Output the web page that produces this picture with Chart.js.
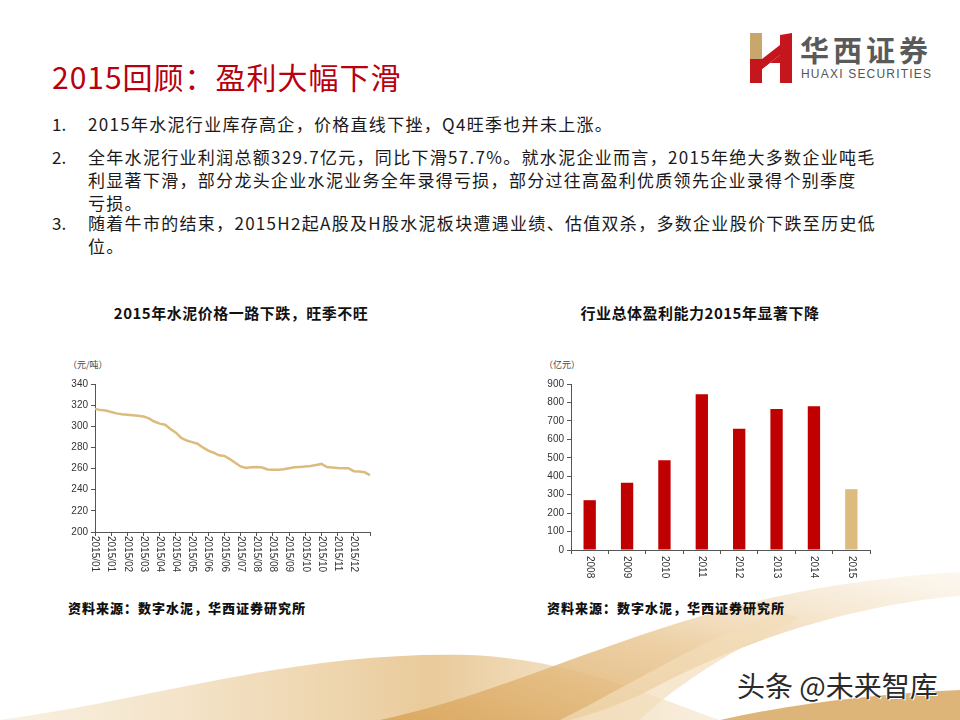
<!DOCTYPE html>
<html>
<head>
<meta charset="utf-8">
<script src="https://cdn.jsdelivr.net/npm/chart.js@4/dist/chart.umd.min.js"></script>
<style>
  html, body { margin: 0; padding: 0; background: #fff; }
  #slide { position: relative; width: 960px; height: 720px; overflow: hidden; font-family: "Noto Sans CJK SC", "Liberation Sans", sans-serif; }
  .abs { position: absolute; white-space: nowrap; }
  #heading { left: 52px; top: 56px; font-size: 30px; line-height: 40px; color: #B8000F; letter-spacing: 1px; }
  .bl { font-size: 17px; line-height: 23px; color: #1a1a1a; letter-spacing: 1.3px; }
  .num { left: 52px; letter-spacing: 0; }
  .txt { left: 88px; }
  .ctitle { font-size: 15px; font-weight: 700; color: #111; letter-spacing: 0.5px; transform: translateX(-50%); }
  .unit { font-size: 9px; color: #444; }
  .src { font-size: 13px; font-weight: 900; color: #111; letter-spacing: 1px; }
  canvas { position: absolute; }
</style>
</head>
<body>
<div id="slide">
  <svg class="abs" style="left:0;top:0" width="960" height="720" viewBox="0 0 960 720">
    <defs>
      <linearGradient id="g1" x1="0" y1="0" x2="1" y2="0">
        <stop offset="0" stop-color="#F3E2C4" stop-opacity="0.5"/>
        <stop offset="0.6" stop-color="#E2B978" stop-opacity="0.75"/>
        <stop offset="1" stop-color="#F0D9B2" stop-opacity="0.4"/>
      </linearGradient>
      <linearGradient id="g2" x1="0" y1="1" x2="1" y2="0">
        <stop offset="0" stop-color="#D9A55C" stop-opacity="0.9"/>
        <stop offset="0.5" stop-color="#E8C48E" stop-opacity="0.8"/>
        <stop offset="1" stop-color="#F5E6CC" stop-opacity="0.3"/>
      </linearGradient>
    </defs>
    <path d="M0 720 C150 700 300 650 470 655 C580 660 660 700 720 720 Z" fill="url(#g1)"/>
    <path d="M380 720 C520 690 640 620 820 588 C880 578 930 574 960 572 L960 596 C880 602 760 630 650 690 C620 705 590 715 570 720 Z" fill="url(#g2)"/>
    <path d="M560 720 C640 680 700 640 780 612 L800 618 C730 650 670 690 640 720 Z" fill="#F2DDB9" opacity="0.7"/>
    <path d="M720 720 C800 702 880 694 960 690 L960 720 Z" fill="#D8A862" opacity="0.85"/>
  </svg>

  <div id="heading" class="abs">2015回顾：盈利大幅下滑</div>

  <svg class="abs" style="left:750px;top:33px" width="44" height="50" viewBox="0 0 44 50">
    <polygon points="0,0 12,0 12,26 0,26" fill="#C9A66B"/>
    <polygon points="0,26 12,26 12,50 0,50" fill="#C4161C"/>
    <polygon points="12,26 30,12 30,22 12,36" fill="#C4161C"/>
    <polygon points="30,2 42,0 42,50 30,50" fill="#C4161C"/>
    <polygon points="12,36 30,22 30,30 12,30" fill="#C4161C"/>
  </svg>
  <div class="abs" style="left:800px;top:31px;font-size:29px;line-height:36px;font-weight:700;color:#5a5a5a;letter-spacing:4px">华西证券</div>
  <div class="abs" style="left:801px;top:67px;font-size:12px;line-height:14px;color:#555;letter-spacing:1.2px;font-family:'Liberation Sans',sans-serif">HUAXI SECURITIES</div>

  <div class="abs bl num" style="top:112px">1.</div>
  <div class="abs bl txt" style="top:112px">2015年水泥行业库存高企，价格直线下挫，Q4旺季也并未上涨。</div>
  <div class="abs bl num" style="top:145px">2.</div>
  <div class="abs bl txt" style="top:145px">全年水泥行业利润总额329.7亿元，同比下滑57.7%。就水泥企业而言，2015年绝大多数企业吨毛</div>
  <div class="abs bl txt" style="top:168px">利显著下滑，部分龙头企业水泥业务全年录得亏损，部分过往高盈利优质领先企业录得个别季度</div>
  <div class="abs bl txt" style="top:191px">亏损。</div>
  <div class="abs bl num" style="top:211px">3.</div>
  <div class="abs bl txt" style="top:211px">随着牛市的结束，2015H2起A股及H股水泥板块遭遇业绩、估值双杀，多数企业股价下跌至历史低</div>
  <div class="abs bl txt" style="top:234px">位。</div>

  <div class="abs ctitle" style="left:241px;top:302px">2015年水泥价格一路下跌，旺季不旺</div>
  <div class="abs ctitle" style="left:700px;top:302px">行业总体盈利能力2015年显著下降</div>

  <div class="abs unit" style="left:68px;top:358px">（元/吨）</div>
  <div class="abs unit" style="left:544px;top:358px">（亿元）</div>

  <canvas id="priceChart" width="330" height="210" style="left:50px;top:375px"></canvas>
  <canvas id="profitChart" width="350" height="210" style="left:530px;top:375px"></canvas>

  <div class="abs src" style="left:68px;top:598px">资料来源：数字水泥，华西证券研究所</div>
  <div class="abs src" style="left:547px;top:598px">资料来源：数字水泥，华西证券研究所</div>

  <div class="abs" style="left:737px;top:668px;font-size:28px;line-height:34px;color:#2a2a2a;text-shadow:1px 1px 0 #fff,-1px -1px 0 #fff">头条 @未来智库</div>
</div>

<script>
// 水泥价格（周度，元/吨）
const priceTickLabels = ['2015/01', '2015/01', '2015/02', '2015/03', '2015/04', '2015/04', '2015/05', '2015/06', '2015/06',
    '2015/07', '2015/08', '2015/08', '2015/09', '2015/10', '2015/10', '2015/11', '2015/12'];
const weeklyPrice = [316.5, 315.3, 315, 313.5, 312.2, 311.3, 310.8, 310.4, 310, 309.3,
    307.5, 304.5, 302.5, 301.5, 297.5, 294, 289, 286.5, 285, 283.5,
    280, 277, 275, 272.5, 272, 269, 265.5, 262, 260.5, 261.3,
    261.5, 261, 259.2, 258.8, 259, 259.3, 260.3, 261.3, 261.6, 262,
    262.5, 263.3, 264.4, 261.5, 261, 260.5, 260.3, 260.3, 257.5, 257.2,
    256.5, 253.8];

// 行业利润总额（亿元）
const profitYears = ['2008', '2009', '2010', '2011', '2012', '2013', '2014', '2015'];
const profitValues = [270, 365, 487, 845, 657, 765, 780, 329.7];

const TICK_EVERY = 3;
const LINE_GOLD = '#DCBC7E';
const BAR_RED = '#C00000';
const BAR_GOLD = '#DDBB7F';
const AXIS = '#555';
const tickFont = { family: 'Liberation Sans', size: 10 };

// 竖排的x轴标签（顺时针旋转90度）
function verticalLabels(items, offsetY) {
    return {
        id: 'verticalLabels',
        afterDraw(chart) {
            const xs = chart.scales.x;
            const c = chart.ctx;
            c.save();
            c.font = '10px "Liberation Sans"';
            c.fillStyle = '#333';
            c.textAlign = 'left';
            c.textBaseline = 'middle';
            items.forEach(([idx, text]) => {
                const x = xs.getPixelForValue(idx);
                c.save();
                c.translate(x, xs.top + offsetY);
                c.rotate(Math.PI / 2);
                c.fillText(text, 0, 0);
                c.restore();
            });
            c.restore();
        }
    };
}

document.addEventListener('DOMContentLoaded', function() {
    const weekLabels = weeklyPrice.map((v, i) => (i % TICK_EVERY === 0 && priceTickLabels[i / TICK_EVERY]) || '');
    const priceLabelItems = priceTickLabels.map((t, k) => [k * TICK_EVERY, t]);

    new Chart(document.getElementById('priceChart'), {
        type: 'line',
        data: {
            labels: weekLabels,
            datasets: [{
                data: weeklyPrice,
                borderColor: LINE_GOLD,
                borderWidth: 2.5,
                pointRadius: 0,
                tension: 0,
                fill: false
            }]
        },
        options: {
            responsive: false,
            animation: false,
            layout: { padding: { top: 7, right: 10, left: 0, bottom: 0 } },
            plugins: { legend: { display: false }, tooltip: { enabled: false } },
            scales: {
                x: {
                    offset: false,
                    ticks: { display: false, autoSkip: false },
                    grid: {
                        drawOnChartArea: false,
                        tickLength: 4,
                        color: c => (c.index % TICK_EVERY === 0 ? AXIS : 'transparent')
                    },
                    border: { color: AXIS, width: 1 },
                    afterFit: s => { s.height = 53; }
                },
                y: {
                    min: 200,
                    max: 340,
                    ticks: { stepSize: 20, color: '#333', font: tickFont, padding: 3 },
                    grid: { drawOnChartArea: false, tickLength: 4, color: AXIS },
                    border: { color: AXIS, width: 1 },
                    afterFit: s => { s.width = 45; }
                }
            }
        },
        plugins: [verticalLabels(priceLabelItems, 4)]
    });

    new Chart(document.getElementById('profitChart'), {
        type: 'bar',
        data: {
            labels: profitYears,
            datasets: [{
                data: profitValues,
                backgroundColor: profitYears.map(y => (y === '2015' ? BAR_GOLD : BAR_RED)),
                barPercentage: 0.33,
                categoryPercentage: 1
            }]
        },
        options: {
            responsive: false,
            animation: false,
            layout: { padding: { top: 9, right: 10, left: 0, bottom: 0 } },
            plugins: { legend: { display: false }, tooltip: { enabled: false } },
            scales: {
                x: {
                    ticks: { display: false },
                    grid: { offset: true, drawOnChartArea: false, tickLength: 4, color: AXIS },
                    border: { color: AXIS, width: 1 },
                    afterFit: s => { s.height = 35; }
                },
                y: {
                    min: 0,
                    max: 900,
                    ticks: { stepSize: 100, color: '#333', font: tickFont, padding: 3 },
                    grid: { drawOnChartArea: false, tickLength: 4, color: AXIS },
                    border: { color: AXIS, width: 1 },
                    afterFit: s => { s.width = 41; }
                }
            }
        },
        plugins: [verticalLabels(profitYears.map((y, i) => [i, y]), 6)]
    });
});
</script>
</body>
</html>
